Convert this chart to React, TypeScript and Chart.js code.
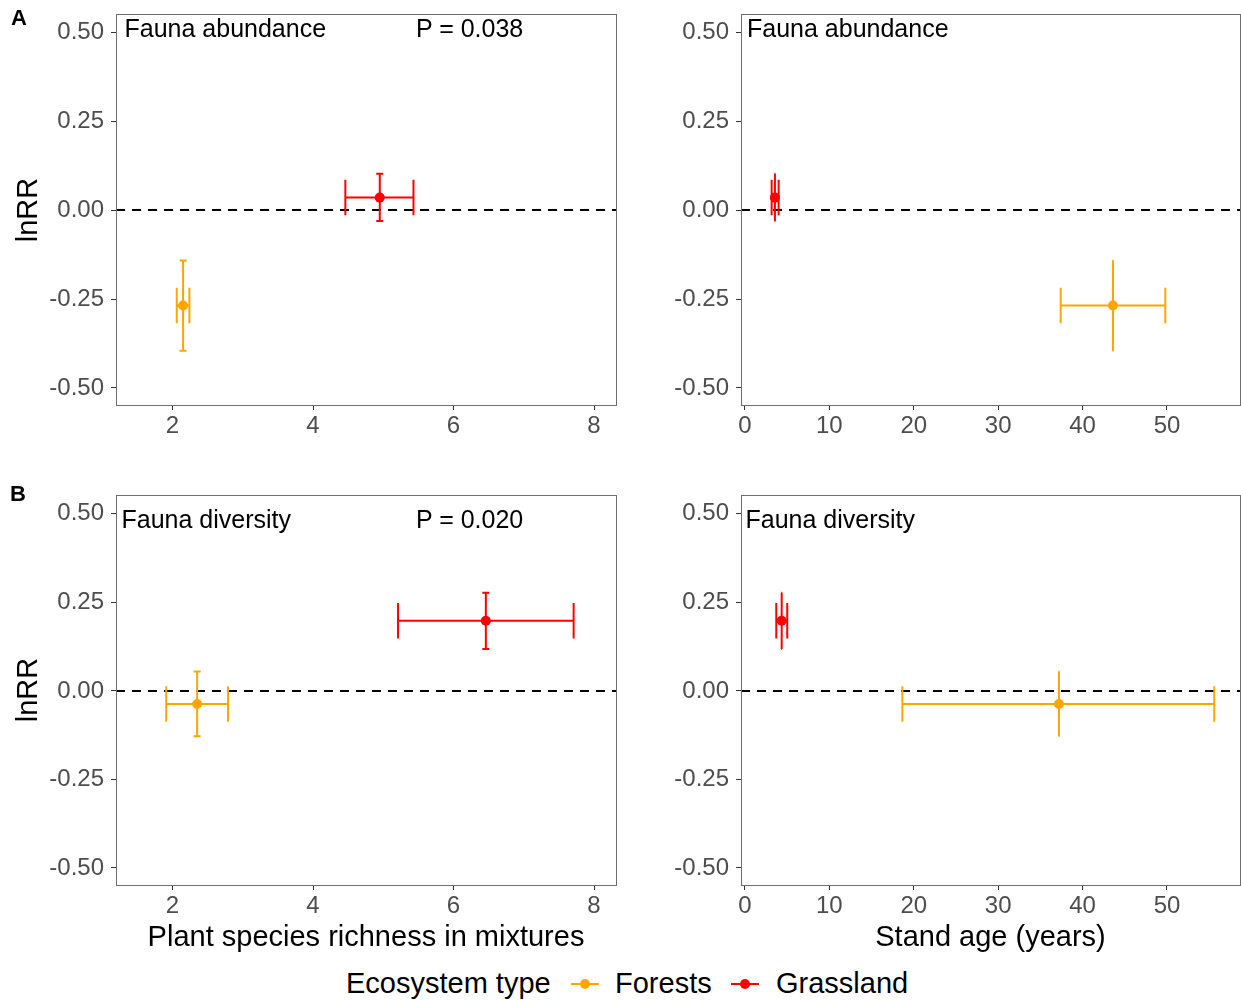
import React, { useEffect, useRef } from 'react';
import { Chart, registerables } from 'chart.js';

Chart.register(...registerables);

const FONT = '"Liberation Sans", Arial, sans-serif';
const ORANGE = '#FFA500';
const RED = '#FF0000';

const ecosystemTypes = ['Forests', 'Grassland'];
const ecosystemColors = [ORANGE, RED];

const richnessTicks = [2, 4, 6, 8];
const ageTicks = [0, 10, 20, 30, 40, 50];
const lnrrTicks = [-0.5, -0.25, 0, 0.25, 0.5];

// Fauna abundance (A): [Forests, Grassland]
const abundRichness = [2.15, 4.95];
const abundRichnessLo = [2.06, 4.46];
const abundRichnessHi = [2.24, 5.43];
const abundAge = [43.6, 3.55];
const abundAgeLo = [37.4, 3.16];
const abundAgeHi = [49.8, 3.99];
const abundLnRR = [-0.268, 0.036];
const abundLnRRLo = [-0.395, -0.03];
const abundLnRRHi = [-0.141, 0.103];

// Fauna diversity (B): [Forests, Grassland]
const divRichness = [2.35, 6.46];
const divRichnessLo = [1.91, 5.21];
const divRichnessHi = [2.79, 7.71];
const divAge = [37.2, 4.35];
const divAgeLo = [18.65, 3.71];
const divAgeHi = [55.6, 5.01];
const divLnRR = [-0.037, 0.198];
const divLnRRLo = [-0.128, 0.118];
const divLnRRHi = [0.055, 0.277];

const RICH_MIN = 1.195;
const RICH_MAX = 8.313;
const AGE_MIN = -0.47;
const AGE_MAX = 58.65;
const LNRR_MIN = -0.548;
const LNRR_MAX = 0.553;
const CAP = 0.05;

type PanelProps = {
  left: number;
  top: number;
  width: number;
  height: number;
  area: { left: number; top: number; right: number; bottom: number };
  xs: number[];
  xLo: number[];
  xHi: number[];
  ys: number[];
  yLo: number[];
  yHi: number[];
  xMin: number;
  xMax: number;
  xTicks: number[];
};

function Panel(p: PanelProps) {
  const ref = useRef<HTMLCanvasElement>(null);
  useEffect(() => {
    const errPlugin = {
      id: 'errbars',
      beforeDatasetsDraw(chart: any) {
        const { ctx, chartArea, scales } = chart;
        const x = scales.x;
        const y = scales.y;
        ctx.save();
        // zero reference line
        const y0 = Math.round(y.getPixelForValue(0));
        ctx.beginPath();
        ctx.setLineDash([9, 7]);
        ctx.strokeStyle = '#000';
        ctx.lineWidth = 2;
        ctx.moveTo(chartArea.left, y0);
        ctx.lineTo(chartArea.right, y0);
        ctx.stroke();
        ctx.setLineDash([]);
        ctx.lineCap = 'butt';
        ctx.lineWidth = 2;
        for (let i = 0; i < p.xs.length; i++) {
          ctx.strokeStyle = ecosystemColors[i];
          const px = x.getPixelForValue(p.xs[i]);
          const py = y.getPixelForValue(p.ys[i]);
          const pyLo = y.getPixelForValue(p.yLo[i]);
          const pyHi = y.getPixelForValue(p.yHi[i]);
          const pxLo = x.getPixelForValue(p.xLo[i]);
          const pxHi = x.getPixelForValue(p.xHi[i]);
          const cxL = x.getPixelForValue(p.xs[i] - CAP);
          const cxR = x.getPixelForValue(p.xs[i] + CAP);
          const cyT = y.getPixelForValue(p.ys[i] + CAP);
          const cyB = y.getPixelForValue(p.ys[i] - CAP);
          ctx.beginPath();
          // vertical error bar + caps
          ctx.moveTo(px, pyLo);
          ctx.lineTo(px, pyHi);
          ctx.moveTo(cxL, pyLo);
          ctx.lineTo(cxR, pyLo);
          ctx.moveTo(cxL, pyHi);
          ctx.lineTo(cxR, pyHi);
          // horizontal error bar + caps
          ctx.moveTo(pxLo, py);
          ctx.lineTo(pxHi, py);
          ctx.moveTo(pxLo, cyT);
          ctx.lineTo(pxLo, cyB);
          ctx.moveTo(pxHi, cyT);
          ctx.lineTo(pxHi, cyB);
          ctx.stroke();
        }
        ctx.restore();
      },
      afterDraw(chart: any) {
        const { ctx, chartArea } = chart;
        ctx.save();
        ctx.strokeStyle = '#6e6e6e';
        ctx.lineWidth = 1;
        const l = Math.round(chartArea.left) + 0.5;
        const t = Math.round(chartArea.top) + 0.5;
        const r = Math.round(chartArea.right) + 0.5;
        const b = Math.round(chartArea.bottom) + 0.5;
        ctx.strokeRect(l, t, r - l, b - t);
        ctx.restore();
      },
    };

    const tickFont = { family: FONT, size: 24 };
    const chart = new Chart(ref.current as HTMLCanvasElement, {
      type: 'scatter',
      data: {
        datasets: ecosystemTypes.map((name, i) => ({
          label: name,
          data: [{ x: p.xs[i], y: p.ys[i] }],
          backgroundColor: ecosystemColors[i],
          borderColor: ecosystemColors[i],
          borderWidth: 0,
          pointRadius: 5,
          pointHoverRadius: 5,
        })),
      },
      options: {
        animation: false,
        responsive: false,
        events: [],
        layout: {
          autoPadding: false,
          padding: { left: 0, top: p.area.top, right: p.width - p.area.right, bottom: 0 },
        },
        plugins: {
          legend: { display: false },
          tooltip: { enabled: false },
        },
        scales: {
          x: {
            type: 'linear',
            min: p.xMin,
            max: p.xMax,
            bounds: 'data',
            afterBuildTicks: (s: any) => {
              s.ticks = p.xTicks.map((v) => ({ value: v }));
            },
            afterFit: (s: any) => {
              s.height = p.height - p.area.bottom;
              s.paddingLeft = 0;
              s.paddingRight = 0;
            },
            grid: {
              display: true,
              drawOnChartArea: false,
              drawTicks: true,
              tickLength: 5,
              color: '#333',
              lineWidth: 1,
            },
            border: { display: false },
            ticks: {
              font: tickFont,
              color: '#4d4d4d',
              padding: 2,
              maxRotation: 0,
              autoSkip: false,
              callback: (v: any) => String(v),
            },
          },
          y: {
            type: 'linear',
            min: LNRR_MIN,
            max: LNRR_MAX,
            bounds: 'data',
            afterBuildTicks: (s: any) => {
              s.ticks = lnrrTicks.map((v) => ({ value: v }));
            },
            afterFit: (s: any) => {
              s.width = p.area.left;
              s.paddingTop = 0;
              s.paddingBottom = 0;
            },
            grid: {
              display: true,
              drawOnChartArea: false,
              drawTicks: true,
              tickLength: 5,
              color: '#333',
              lineWidth: 1,
            },
            border: { display: false },
            ticks: {
              font: tickFont,
              color: '#4d4d4d',
              padding: 7,
              autoSkip: false,
              callback: (v: any) => Number(v).toFixed(2),
            },
          },
        },
      } as any,
      plugins: [errPlugin],
    });
    return () => chart.destroy();
  }, []);
  return (
    <canvas
      ref={ref}
      width={p.width}
      height={p.height}
      style={{ position: 'absolute', left: p.left, top: p.top, width: p.width, height: p.height }}
    />
  );
}

function Txt(props: {
  x: number;
  base: number;
  size: number;
  text: string;
  center?: boolean;
  bold?: boolean;
}) {
  const { x, base, size, text, center, bold } = props;
  return (
    <div
      style={{
        position: 'absolute',
        left: x,
        top: base - 0.8465 * size,
        fontSize: size,
        lineHeight: `${size}px`,
        fontFamily: FONT,
        fontWeight: bold ? 'bold' : 'normal',
        whiteSpace: 'nowrap',
        color: '#000',
        transform: center ? 'translateX(-50%)' : undefined,
      }}
    >
      {text}
    </div>
  );
}

function VTxt(props: { cx: number; cy: number; size: number; text: string }) {
  const { cx, cy, size, text } = props;
  return (
    <div
      style={{
        position: 'absolute',
        left: cx,
        top: cy,
        fontSize: size,
        lineHeight: `${size}px`,
        fontFamily: FONT,
        whiteSpace: 'nowrap',
        color: '#000',
        transform: 'translate(-50%, -50%) rotate(-90deg)',
      }}
    >
      {text}
    </div>
  );
}

function LegendKey(props: { x: number; y: number; color: string }) {
  const { x, y, color } = props;
  return (
    <>
      <div style={{ position: 'absolute', left: x, top: y - 1, width: 28, height: 2, background: color }} />
      <div
        style={{
          position: 'absolute',
          left: x + 14 - 5,
          top: y - 5,
          width: 10,
          height: 10,
          borderRadius: '50%',
          background: color,
        }}
      />
    </>
  );
}

export default function App() {
  return (
    <div
      style={{
        position: 'absolute',
        left: 0,
        top: 0,
        width: 1241,
        height: 1000,
        background: '#fff',
        overflow: 'hidden',
      }}
    >
      <Panel
        left={0}
        top={0}
        width={625}
        height={450}
        area={{ left: 116, top: 14, right: 616, bottom: 405 }}
        xs={abundRichness}
        xLo={abundRichnessLo}
        xHi={abundRichnessHi}
        ys={abundLnRR}
        yLo={abundLnRRLo}
        yHi={abundLnRRHi}
        xMin={RICH_MIN}
        xMax={RICH_MAX}
        xTicks={richnessTicks}
      />
      <Panel
        left={625}
        top={0}
        width={616}
        height={450}
        area={{ left: 116, top: 14, right: 615, bottom: 405 }}
        xs={abundAge}
        xLo={abundAgeLo}
        xHi={abundAgeHi}
        ys={abundLnRR}
        yLo={abundLnRRLo}
        yHi={abundLnRRHi}
        xMin={AGE_MIN}
        xMax={AGE_MAX}
        xTicks={ageTicks}
      />
      <Panel
        left={0}
        top={450}
        width={625}
        height={480}
        area={{ left: 116, top: 45, right: 616, bottom: 435 }}
        xs={divRichness}
        xLo={divRichnessLo}
        xHi={divRichnessHi}
        ys={divLnRR}
        yLo={divLnRRLo}
        yHi={divLnRRHi}
        xMin={RICH_MIN}
        xMax={RICH_MAX}
        xTicks={richnessTicks}
      />
      <Panel
        left={625}
        top={450}
        width={616}
        height={480}
        area={{ left: 116, top: 45, right: 615, bottom: 435 }}
        xs={divAge}
        xLo={divAgeLo}
        xHi={divAgeHi}
        ys={divLnRR}
        yLo={divLnRRLo}
        yHi={divLnRRHi}
        xMin={AGE_MIN}
        xMax={AGE_MAX}
        xTicks={ageTicks}
      />

      <Txt x={11} base={26} size={22} text="A" bold />
      <Txt x={10} base={502} size={22} text="B" bold />

      <Txt x={124.5} base={37} size={25} text="Fauna abundance" />
      <Txt x={416} base={37} size={25} text="P = 0.038" />
      <Txt x={747} base={37} size={25} text="Fauna abundance" />
      <Txt x={121.5} base={528} size={25} text="Fauna diversity" />
      <Txt x={416} base={528} size={25} text="P = 0.020" />
      <Txt x={745.5} base={528} size={25} text="Fauna diversity" />

      <VTxt cx={27} cy={210} size={29} text="lnRR" />
      <VTxt cx={27} cy={690} size={29} text="lnRR" />

      <Txt x={366} base={947} size={29} text="Plant species richness in mixtures" center />
      <Txt x={990.5} base={947} size={29} text="Stand age (years)" center />

      <Txt x={346} base={994} size={29} text="Ecosystem type" />
      <LegendKey x={571} y={984} color={ORANGE} />
      <Txt x={615} base={994} size={29} text={ecosystemTypes[0]} />
      <LegendKey x={731} y={984} color={RED} />
      <Txt x={776} base={994} size={29} text={ecosystemTypes[1]} />
    </div>
  );
}
